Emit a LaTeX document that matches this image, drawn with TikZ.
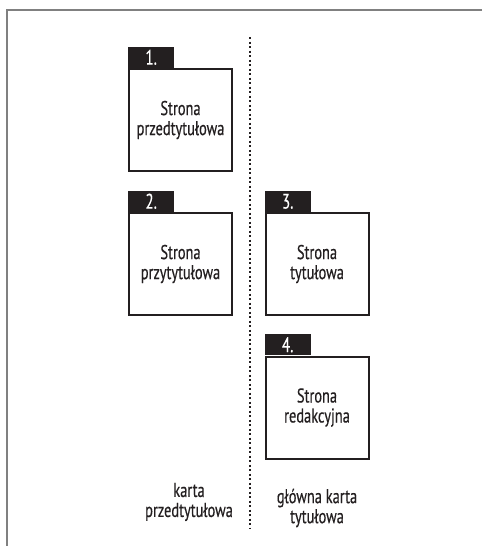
\documentclass[tikz,border=0pt]{standalone}
\usepackage{fontspec}
\setmainfont[FakeStretch=0.72,FakeBold=0.4]{PT Sans}
\usetikzlibrary{positioning}
\definecolor{ink}{HTML}{231F20}
\tikzset{
	page/.style={draw=ink,text=ink,line width=2pt,minimum width=103pt,minimum height=102pt,align=center,inner sep=0pt,font=\fontsize{20}{20}\selectfont},
	pagetag/.style={fill=ink,text=white,minimum width=46pt,minimum height=21pt,inner sep=0pt,font=\fontsize{21}{21}\selectfont},
	caption/.style={text=ink,align=center,font=\fontsize{20}{20}\selectfont}
}
\begin{document}
\begin{tikzpicture}[x=1pt,y=-1pt]
		\useasboundingbox (0,0) rectangle (482,546);
		\draw[gray,line width=1.5pt] (482,10)--(7,10)--(7,546);
		\draw[ink,line width=2pt,dash pattern=on 2pt off 2.5pt] (249.5,37)--(249.5,528);
		\node[page] (p1) at (180.5,120) {Strona\\przedtytułowa};
		\node[page] (p2) at (180.5,264) {Strona\\przytytułowa};
		\node[page] (p3) at (317,264) {Strona\\tytułowa};
		\node[page] (p4) at (317,407.5) {Strona\\redakcyjna};
		\node[pagetag,above right=0pt and 0pt of p1.north west] (t1) {1.};
		\node[pagetag,above right=0pt and 0pt of p2.north west] (t2) {2.};
		\node[pagetag,above right=0pt and 0pt of p3.north west] (t3) {3.};
		\node[pagetag,above right=0pt and 0pt of p4.north west] (t4) {4.};
		\node[caption] (c1) at (189,502) {karta\\przedtytułowa};
		\node[caption] (c2) at (317,508) {główna karta\\tytułowa};
	\end{tikzpicture}
\end{document}
